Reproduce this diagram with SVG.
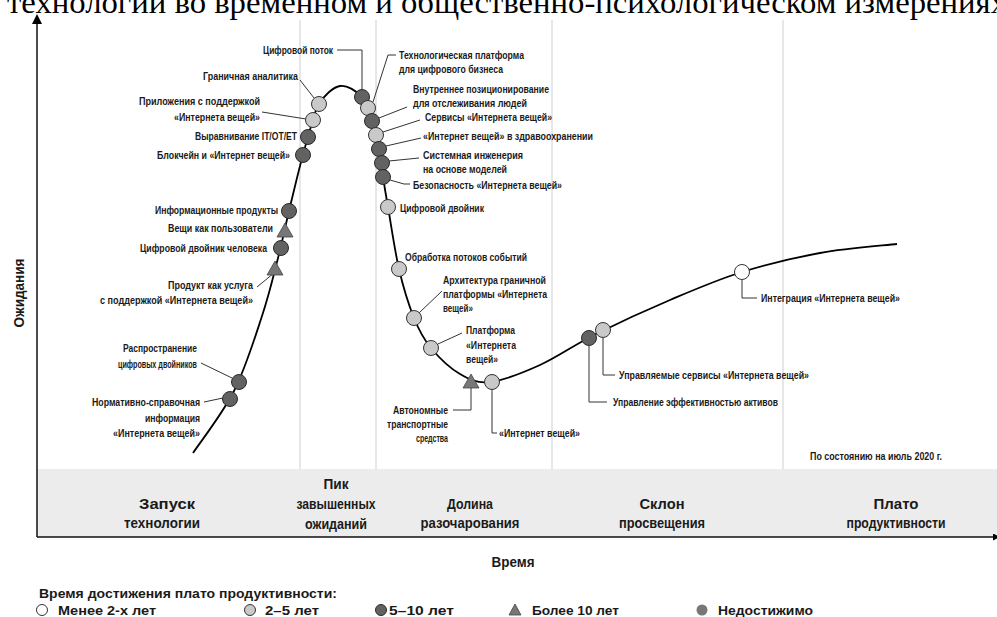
<svg xmlns="http://www.w3.org/2000/svg" width="997" height="617" viewBox="0 0 997 617">
<defs>
<style>
text{font-family:"Liberation Sans",Arial,sans-serif;font-weight:bold;fill:#1a1a1a}
.t{font-size:11px}
.e{text-anchor:end}
.m{text-anchor:middle}
.big{font-size:14px}
.leg{font-size:14px}
.lg{font-size:13px}
.ld{fill:none;stroke:#333;stroke-width:1}
.grid{stroke:#cfcfcf;stroke-width:1}
.wh{fill:#ffffff;stroke:#333;stroke-width:1}
.lt{fill:#c9c9c9;stroke:#333;stroke-width:1}
.dk{fill:#626262;stroke:#2a2a2a;stroke-width:1}
.tr{fill:#777;stroke:#444;stroke-width:0.8}
.na{fill:#777}
</style>
<marker id="ah" viewBox="0 0 10 10" refX="10" refY="5" markerWidth="7" markerHeight="7" orient="auto" markerUnits="userSpaceOnUse"><path d="M0,0 L10,5 L0,10 z" fill="#000"/></marker>
</defs>
<rect width="997" height="617" fill="#fff"/>
<text x="7" y="13" style="font-family:'Liberation Serif',serif;font-weight:normal;fill:#000" font-size="32" textLength="1000" lengthAdjust="spacingAndGlyphs">технологии во временном и общественно-психологическом измерениях</text>

<g id="background">
<rect x="37" y="469" width="960" height="68" fill="#ececec"/>
<line class="grid" x1="300" y1="20" x2="300" y2="469"/>
<line class="grid" x1="376" y1="20" x2="376" y2="469"/>
<line class="grid" x1="552" y1="20" x2="552" y2="469"/>
<line class="grid" x1="783" y1="20" x2="783" y2="469"/>
<line x1="37" y1="537" x2="1000" y2="537" stroke="#111" stroke-width="1.5" marker-end="url(#ah)"/>
<line x1="37" y1="537" x2="37" y2="23" stroke="#111" stroke-width="1.5"/>
<polygon points="37,14 32,24 42,24" fill="#000"/>
<text class="leg m" transform="translate(24,293) rotate(-90)" textLength="69" lengthAdjust="spacingAndGlyphs">Ожидания</text>
<text class="leg m" x="513" y="567" textLength="43" lengthAdjust="spacingAndGlyphs">Время</text>
<text class="big m" x="167" y="509" textLength="56" lengthAdjust="spacingAndGlyphs">Запуск</text>
<text class="big m" x="162" y="528" textLength="76" lengthAdjust="spacingAndGlyphs">технологии</text>
<text class="big m" x="336" y="489" textLength="25" lengthAdjust="spacingAndGlyphs">Пик</text>
<text class="big m" x="336" y="509" textLength="79" lengthAdjust="spacingAndGlyphs">завышенных</text>
<text class="big m" x="336" y="529" textLength="62" lengthAdjust="spacingAndGlyphs">ожиданий</text>
<text class="big m" x="470" y="509" textLength="46" lengthAdjust="spacingAndGlyphs">Долина</text>
<text class="big m" x="470" y="528" textLength="99" lengthAdjust="spacingAndGlyphs">разочарования</text>
<text class="big m" x="662" y="509" textLength="45" lengthAdjust="spacingAndGlyphs">Склон</text>
<text class="big m" x="662" y="528" textLength="86" lengthAdjust="spacingAndGlyphs">просвещения</text>
<text class="big m" x="896" y="509" textLength="45" lengthAdjust="spacingAndGlyphs">Плато</text>
<text class="big m" x="896" y="528" textLength="99" lengthAdjust="spacingAndGlyphs">продуктивности</text>
<text class="t" x="810" y="460" font-size="10" textLength="132" lengthAdjust="spacingAndGlyphs">По состоянию на июль 2020 г.</text>
</g>

<g id="connectors">
<path fill="none" stroke="#000" stroke-width="1.8" d="M193,453 C199.8,442.7 222.5,413.8 234,391 C245.5,368.2 254.7,338.2 262,316 C269.3,293.8 273.5,275.5 278,258 C282.5,240.5 285.3,226.3 289,211 C292.7,195.7 296.8,178.3 300,166 C303.2,153.7 304.8,147.3 308,137 C311.2,126.7 313.7,112.5 319,104 C324.3,95.5 332.8,87.2 340,86 C347.2,84.8 356.7,91.2 362,97 C367.3,102.8 369.2,112.3 372,121 C374.8,129.7 377.2,139.7 379,149 C380.8,158.3 381.5,167.3 383,177 C384.5,186.7 385.3,191.7 388,207 C390.7,222.3 394.7,250.5 399,269 C403.3,287.5 408.7,304.8 414,318 C419.3,331.2 423.3,338.7 431,348 C438.7,357.3 450.2,368.3 460,374 C469.8,379.7 476.7,383.5 490,382 C503.3,380.5 522.3,373 540,365 C557.7,357 574.3,344.8 596,334 C617.7,323.2 645.7,310.3 670,300 C694.3,289.7 717,279.8 742,272 C767,264.2 794.2,257.7 820,253 C845.8,248.3 884.2,245.5 897,244"/>
<polyline class="ld" points="337,50 362,50 362,90"/>
<line class="ld" x1="300" y1="80" x2="314" y2="98"/>
<line class="ld" x1="262" y1="112" x2="306" y2="119"/>
<line class="ld" x1="257" y1="287" x2="274" y2="273"/>
<line class="ld" x1="201" y1="363" x2="232" y2="378"/>
<line class="ld" x1="204" y1="402" x2="223" y2="398"/>
<polyline class="ld" points="396,55 388,55 373,102"/>
<line class="ld" x1="407" y1="107" x2="379" y2="118"/>
<line class="ld" x1="420" y1="120" x2="383" y2="132"/>
<line class="ld" x1="421" y1="138" x2="386" y2="146"/>
<line class="ld" x1="419" y1="158" x2="389" y2="161"/>
<polyline class="ld" points="410,184 404,184 390,180"/>
<line class="ld" x1="442" y1="291" x2="419" y2="313"/>
<line class="ld" x1="462" y1="333" x2="438" y2="344"/>
<polyline class="ld" points="453,410 471,410 471,388"/>
<polyline class="ld" points="492,390 492,433 497,433"/>
<polyline class="ld" points="603,338 603,375 615,375"/>
<polyline class="ld" points="589,346 589,402 607,402"/>
<polyline class="ld" points="742,280 742,298 757,298"/>
</g>

<g id="n-norm"><circle class="dk" cx="230" cy="399" r="7.5"/><text class="t e" x="200" y="406" textLength="108" lengthAdjust="spacingAndGlyphs">Нормативно-справочная</text><text class="t e" x="200" y="422" textLength="55" lengthAdjust="spacingAndGlyphs">информация</text><text class="t e" x="200" y="437" textLength="87" lengthAdjust="spacingAndGlyphs">«Интернета вещей»</text></g>
<g id="n-dt-spread"><circle class="dk" cx="239" cy="382" r="7.5"/><text class="t e" x="197" y="352" textLength="74" lengthAdjust="spacingAndGlyphs">Распространение</text><text class="t e" x="197" y="368" textLength="79" lengthAdjust="spacingAndGlyphs">цифровых двойников</text></g>
<g id="n-paas"><polygon class="tr" points="275,261 283,275 267,275"/><text class="t e" x="253" y="289" textLength="85" lengthAdjust="spacingAndGlyphs">Продукт как услуга</text><text class="t e" x="253" y="304" textLength="153" lengthAdjust="spacingAndGlyphs">с поддержкой «Интернета вещей»</text></g>
<g id="n-human-dt"><circle class="dk" cx="281" cy="248" r="7.5"/><text class="t e" x="267" y="252" textLength="127" lengthAdjust="spacingAndGlyphs">Цифровой двойник человека</text></g>
<g id="n-things"><polygon class="tr" points="285,223 293,237 277,237"/><text class="t e" x="273" y="232" textLength="105" lengthAdjust="spacingAndGlyphs">Вещи как пользователи</text></g>
<g id="n-info"><circle class="dk" cx="289" cy="211" r="7.5"/><text class="t e" x="278" y="214" textLength="123" lengthAdjust="spacingAndGlyphs">Информационные продукты</text></g>
<g id="n-block"><circle class="dk" cx="303" cy="155" r="7.5"/><text class="t e" x="290" y="159" textLength="133" lengthAdjust="spacingAndGlyphs">Блокчейн и «Интернет вещей»</text></g>
<g id="n-align"><circle class="dk" cx="308" cy="137" r="7.5"/><text class="t e" x="297" y="140" textLength="102" lengthAdjust="spacingAndGlyphs">Выравнивание IT/OT/ET</text></g>
<g id="n-apps"><circle class="lt" cx="313" cy="120" r="7.5"/><text class="t e" x="260" y="105" textLength="121" lengthAdjust="spacingAndGlyphs">Приложения с поддержкой</text><text class="t e" x="260" y="121" textLength="86" lengthAdjust="spacingAndGlyphs">«Интернета вещей»</text></g>
<g id="n-edge"><circle class="lt" cx="319" cy="104" r="7.5"/><text class="t e" x="298" y="80" textLength="95" lengthAdjust="spacingAndGlyphs">Граничная аналитика</text></g>
<g id="n-thread"><circle class="dk" cx="362" cy="97" r="7.5"/><text class="t e" x="333" y="54" textLength="70" lengthAdjust="spacingAndGlyphs">Цифровой поток</text></g>
<g id="n-platform"><circle class="lt" cx="368" cy="108" r="7.5"/><text class="t" x="399" y="59" textLength="125" lengthAdjust="spacingAndGlyphs">Технологическая платформа</text><text class="t" x="399" y="73" textLength="104" lengthAdjust="spacingAndGlyphs">для цифрового бизнеса</text></g>
<g id="n-indoor"><circle class="dk" cx="372" cy="121" r="7.5"/><text class="t" x="413" y="93" textLength="136" lengthAdjust="spacingAndGlyphs">Внутреннее позиционирование</text><text class="t" x="413" y="107" textLength="114" lengthAdjust="spacingAndGlyphs">для отслеживания людей</text></g>
<g id="n-services"><circle class="lt" cx="376" cy="135" r="7.5"/><text class="t" x="425" y="121" textLength="127" lengthAdjust="spacingAndGlyphs">Сервисы «Интернета вещей»</text></g>
<g id="n-health"><circle class="dk" cx="379" cy="149" r="7.5"/><text class="t" x="423" y="140" textLength="170" lengthAdjust="spacingAndGlyphs">«Интернет вещей» в здравоохранении</text></g>
<g id="n-mbse"><circle class="dk" cx="382" cy="163" r="7.5"/><text class="t" x="423" y="159" textLength="100" lengthAdjust="spacingAndGlyphs">Системная инженерия</text><text class="t" x="423" y="173" textLength="84" lengthAdjust="spacingAndGlyphs">на основе моделей</text></g>
<g id="n-security"><circle class="dk" cx="383" cy="177" r="7.5"/><text class="t" x="413" y="189" textLength="149" lengthAdjust="spacingAndGlyphs">Безопасность «Интернета вещей»</text></g>
<g id="n-dt"><circle class="lt" cx="388" cy="207" r="7.5"/><text class="t" x="400" y="212" textLength="84" lengthAdjust="spacingAndGlyphs">Цифровой двойник</text></g>
<g id="n-stream"><circle class="lt" cx="399" cy="269" r="7.5"/><text class="t" x="405" y="261" textLength="122" lengthAdjust="spacingAndGlyphs">Обработка потоков событий</text></g>
<g id="n-edge-arch"><circle class="lt" cx="414" cy="318" r="7.5"/><text class="t" x="443" y="284" textLength="103" lengthAdjust="spacingAndGlyphs">Архитектура граничной</text><text class="t" x="443" y="298" textLength="104" lengthAdjust="spacingAndGlyphs">платформы «Интернета</text><text class="t" x="443" y="312" textLength="30" lengthAdjust="spacingAndGlyphs">вещей»</text></g>
<g id="n-iot-platform"><circle class="lt" cx="431" cy="348" r="7.5"/><text class="t" x="466" y="334" textLength="49" lengthAdjust="spacingAndGlyphs">Платформа</text><text class="t" x="466" y="349" textLength="50" lengthAdjust="spacingAndGlyphs">«Интернета</text><text class="t" x="466" y="363" textLength="32" lengthAdjust="spacingAndGlyphs">вещей»</text></g>
<g id="n-auto"><polygon class="tr" points="471,374 479,388 463,388"/><text class="t e" x="448" y="414" textLength="55" lengthAdjust="spacingAndGlyphs">Автономные</text><text class="t e" x="448" y="428" textLength="61" lengthAdjust="spacingAndGlyphs">транспортные</text><text class="t e" x="448" y="442" textLength="32" lengthAdjust="spacingAndGlyphs">средства</text></g>
<g id="n-iot"><circle class="lt" cx="492" cy="382" r="7.5"/><text class="t" x="499" y="437" textLength="81" lengthAdjust="spacingAndGlyphs">«Интернет вещей»</text></g>
<g id="n-apm"><circle class="dk" cx="589" cy="338" r="7.5"/><text class="t" x="613" y="406" textLength="165" lengthAdjust="spacingAndGlyphs">Управление эффективностью активов</text></g>
<g id="n-managed"><circle class="lt" cx="603" cy="330" r="7.5"/><text class="t" x="619" y="379" textLength="190" lengthAdjust="spacingAndGlyphs">Управляемые сервисы «Интернета вещей»</text></g>
<g id="n-integration"><circle class="wh" cx="742" cy="272" r="7.5"/><text class="t" x="761" y="302" textLength="139" lengthAdjust="spacingAndGlyphs">Интеграция «Интернета вещей»</text></g>

<g id="legend">
<text class="lg" x="39" y="598" textLength="298" lengthAdjust="spacingAndGlyphs">Время достижения плато продуктивности:</text>
<circle class="wh" cx="42" cy="610" r="5.5"/><text class="lg" x="58" y="615" textLength="98" lengthAdjust="spacingAndGlyphs">Менее 2-х лет</text>
<circle class="lt" cx="250" cy="610" r="5.5"/><text class="lg" x="265" y="615" textLength="54" lengthAdjust="spacingAndGlyphs">2–5 лет</text>
<circle class="dk" cx="381" cy="610" r="5.5"/><text class="lg" x="389" y="615" textLength="65" lengthAdjust="spacingAndGlyphs">5–10 лет</text>
<polygon class="tr" points="515,604 521,615 509,615"/><text class="lg" x="532" y="615" textLength="87" lengthAdjust="spacingAndGlyphs">Более 10 лет</text>
<circle class="na" cx="702" cy="610" r="5.5"/><text class="lg" x="718" y="615" textLength="95" lengthAdjust="spacingAndGlyphs">Недостижимо</text>
</g>
</svg>
